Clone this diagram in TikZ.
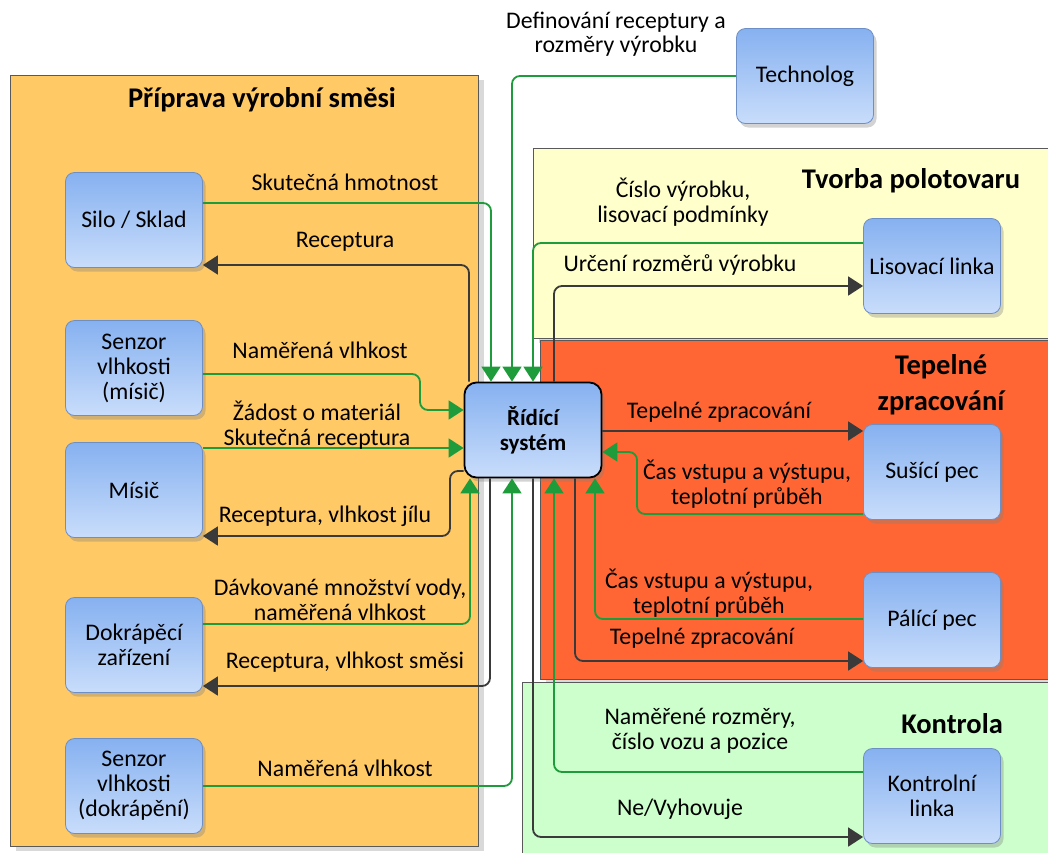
\documentclass[tikz,border=0pt]{standalone}
\usepackage{fontspec}
\setmainfont{Carlito}
\usetikzlibrary{arrows.meta,shadows}

\definecolor{oranzova}{HTML}{FFC966}
\definecolor{zluta}{HTML}{FFFFCC}
\definecolor{cervena}{HTML}{FF6633}
\definecolor{svetlezelena}{HTML}{CCFFCC}
\definecolor{cara}{HTML}{1E9B3A}
\definecolor{tmava}{HTML}{3A3A3A}
\definecolor{modrahore}{HTML}{86B1F0}
\definecolor{modradole}{HTML}{C9DDFB}
\definecolor{modraokraj}{HTML}{6E8FC6}

\begin{document}
\begin{tikzpicture}[x=1pt, y=-1pt,
    blok/.style={draw=modraokraj, line width=0.8pt, rounded corners=9pt,
        top color=modrahore, bottom color=modradole, minimum width=137pt,
        minimum height=95pt, inner sep=3pt, align=center,
        font=\fontsize{23.8}{25}\selectfont,
        drop shadow={shadow xshift=3pt, shadow yshift=-4pt, opacity=0.35}},
    skupina/.style={draw=gray!70!black, line width=0.6pt, anchor=north west,
        inner sep=0pt, drop shadow={shadow xshift=6pt, shadow yshift=-5pt, opacity=0.3}},
    nadpis/.style={font=\fontsize{28.5}{36}\selectfont\bfseries, align=center, inner sep=0pt},
    popis/.style={font=\fontsize{23.8}{24.5}\selectfont, align=center, inner sep=0pt},
    spoj/.style={line width=1.8pt, rounded corners=8pt, -{Triangle[length=15pt,width=19pt]}},
    zelena/.style={spoj, draw=cara, fill=none},
    cerna/.style={spoj, draw=tmava, fill=none}]
    \useasboundingbox (0,0) rectangle (1048,852);

    \node[skupina, fill=zluta, minimum width=530pt, minimum height=190pt] (tvorba) at (533,148) {};
    \node[skupina, fill=cervena, minimum width=520pt, minimum height=339pt] (tepelne) at (540,340) {};
    \node[skupina, fill=svetlezelena, minimum width=540pt, minimum height=190pt] (kontrola) at (522,682) {};
    \node[skupina, fill=oranzova, minimum width=468pt, minimum height=771pt] (priprava) at (10,75) {};

    \node[nadpis] (n1) at (262,100) {Příprava výrobní směsi};
    \node[nadpis] (n2) at (911,181) {Tvorba polotovaru};
    \node[nadpis] (n3) at (941,385) {Tepelné\\zpracování};
    \node[nadpis] (n4) at (952,724) {Kontrola};

    \node[blok] (silo) at (134,220) {Silo / Sklad};
    \node[blok] (senzor1) at (134,368) {Senzor\\vlhkosti\\(mísič)};
    \node[blok] (misic) at (134,490) {Mísič};
    \node[blok] (dokrap) at (134,645) {Dokrápěcí\\zařízení};
    \node[blok] (senzor2) at (134,786) {Senzor\\vlhkosti\\(dokrápění)};
    \node[blok, draw=black, line width=1.8pt, rounded corners=12pt, font=\fontsize{23}{25}\selectfont\bfseries] (ridici) at (533,430) {Řídící\\systém};
    \node[blok] (technolog) at (805,76) {Technolog};
    \node[blok] (lisovaci) at (932,266) {Lisovací linka};
    \node[blok] (susici) at (932,472) {Sušící pec};
    \node[blok] (palici) at (932,620) {Pálící pec};
    \node[blok] (kontrolni) at (932,796) {Kontrolní\\linka};

    \draw[zelena] (silo.east |- 0,203) -| ([xshift=-42pt]ridici.north);
    \draw[cerna] ([xshift=-64pt]ridici.north) |- (silo.east |- 0,265);
    \draw[zelena] (technolog.west) -| ([xshift=-21pt]ridici.north);
    \draw[zelena] (lisovaci.west |- 0,243) -| (ridici.north);
    \draw[cerna] ([xshift=21pt]ridici.north) |- (lisovaci.west |- 0,286);
    \draw[zelena] (senzor1.east |- 0,374) -- (420,374) |- (ridici.west |- 0,410);
    \draw[zelena] (misic.east |- 0,448) -- (ridici.west |- 0,448);
    \draw[cerna] (ridici.west |- 0,471) -- (450,471) |- (misic.east |- 0,536);
    \draw[zelena] (dokrap.east |- 0,624) -| ([xshift=-63pt]ridici.south);
    \draw[cerna] ([xshift=-43pt]ridici.south) |- (dokrap.east |- 0,686);
    \draw[zelena] (senzor2.east |- 0,786) -| ([xshift=-21pt]ridici.south);
    \draw[cerna] (ridici.south) |- (kontrolni.west |- 0,837);
    \draw[zelena] (kontrolni.west |- 0,772) -| ([xshift=21pt]ridici.south);
    \draw[cerna] ([xshift=42pt]ridici.south) |- (palici.west |- 0,661);
    \draw[zelena] (palici.west |- 0,619) -| ([xshift=62pt]ridici.south);
    \draw[cerna] (ridici.east |- 0,431) -- (susici.west |- 0,431);
    \draw[zelena] (susici.west |- 0,514) -- (637,514) |- (ridici.east |- 0,452);

    \node[popis] (p1) at (616,34) {Definování receptury a\\rozměry výrobku};
    \node[popis] (p2) at (345,182) {Skutečná hmotnost};
    \node[popis] (p3) at (345,242) {Receptura};
    \node[popis] (p4) at (320,350) {Naměřená vlhkost};
    \node[popis] (p5) at (317,425) {Žádost o materiál\\Skutečná receptura};
    \node[popis] (p6) at (325,516) {Receptura, vlhkost jílu};
    \node[popis] (p7) at (340,600) {Dávkované množství vody,\\naměřená vlhkost};
    \node[popis] (p8) at (345,662) {Receptura, vlhkost směsi};
    \node[popis] (p9) at (345,768) {Naměřená vlhkost};
    \node[popis] (p10) at (683,202) {Číslo výrobku,\\lisovací podmínky};
    \node[popis] (p11) at (680,265) {Určení rozměrů výrobku};
    \node[popis] (p12) at (719,412) {Tepelné zpracování};
    \node[popis] (p13) at (747,484) {Čas vstupu a výstupu,\\teplotní průběh};
    \node[popis] (p14) at (709,593) {Čas vstupu a výstupu,\\teplotní průběh};
    \node[popis] (p15) at (702,638) {Tepelné zpracování};
    \node[popis] (p16) at (700,731) {Naměřené rozměry,\\číslo vozu a pozice};
    \node[popis] (p17) at (680,809) {Ne/Vyhovuje};
\end{tikzpicture}
\end{document}
